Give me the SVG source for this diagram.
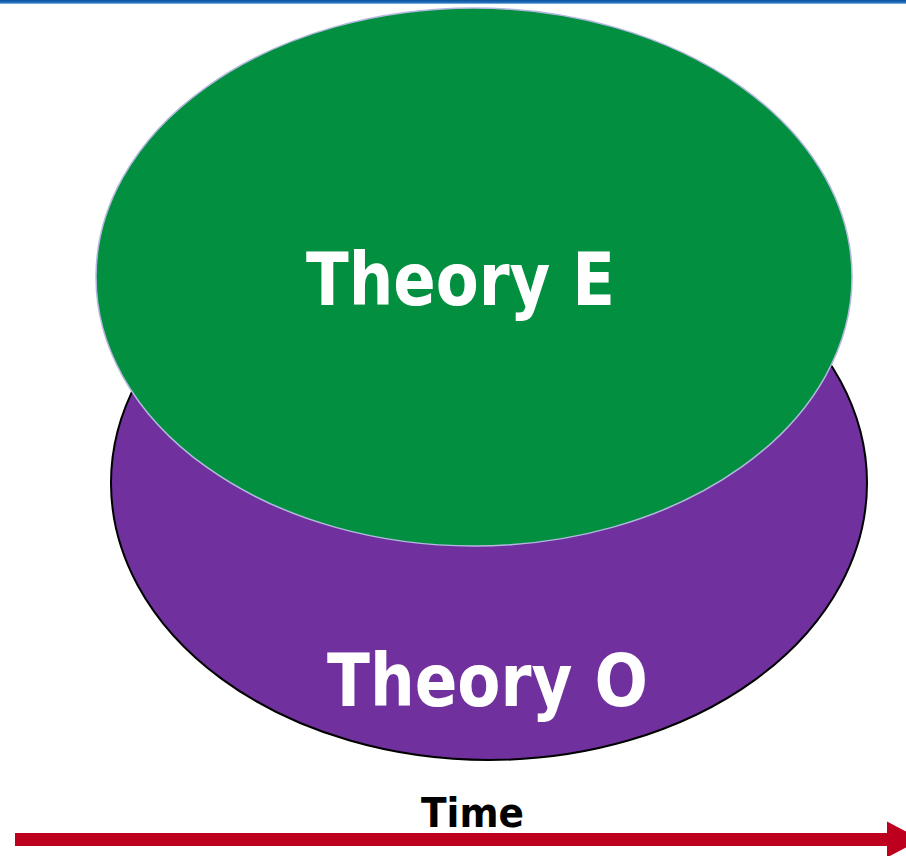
<svg xmlns="http://www.w3.org/2000/svg" width="906" height="856" viewBox="0 0 906 856">
<defs>
<style>
.lbl{font-family:"DejaVu Sans","Noto Sans",sans-serif;font-weight:bold;fill:#ffffff;}
.time{font-family:"DejaVu Sans","Noto Sans",sans-serif;font-weight:bold;fill:#000000;}
</style>
<linearGradient id="topbar" x1="0" y1="0" x2="0" y2="1">
<stop offset="0" stop-color="#0f4f96"/>
<stop offset="0.6" stop-color="#1b6fbf"/>
<stop offset="1" stop-color="#9cc3e8"/>
</linearGradient>
<marker id="arrowhead" markerUnits="userSpaceOnUse" markerWidth="40" markerHeight="40" refX="0" refY="20" orient="auto">
<polygon points="0,2 34,20 0,38" fill="#bd001e"/>
</marker>
</defs>
<rect x="0" y="0" width="906" height="856" fill="#ffffff"/>
<rect x="0" y="0" width="906" height="4" fill="url(#topbar)"/>
<g id="theory-o">
<ellipse cx="489" cy="483" rx="378" ry="277" fill="#70309d" stroke="#000000" stroke-width="2"/>
<text class="lbl" x="487.5" y="706" font-size="73" text-anchor="middle" textLength="321" lengthAdjust="spacingAndGlyphs">Theory O</text>
</g>
<g id="theory-e">
<ellipse cx="474" cy="277" rx="378" ry="269" fill="#029040" stroke="#b4b8e0" stroke-width="1.5"/>
<text class="lbl" x="460.5" y="305" font-size="73" text-anchor="middle" textLength="309" lengthAdjust="spacingAndGlyphs">Theory E</text>
</g>
<g id="connectors">
<line x1="15" y1="839.5" x2="887" y2="839.5" stroke="#bd001e" stroke-width="13" marker-end="url(#arrowhead)"/>
</g>
<text class="time" x="472.5" y="827" font-size="41" text-anchor="middle" textLength="103" lengthAdjust="spacingAndGlyphs">Time</text>
</svg>
